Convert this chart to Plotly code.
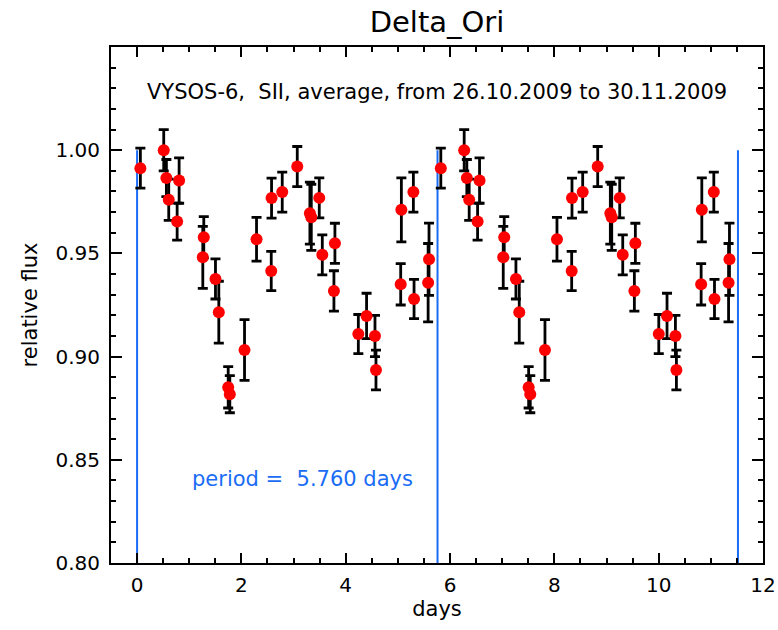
import plotly.graph_objects as go

PERIOD = 5.760

phase = [0.063, 0.511, 0.562, 0.607, 0.806, 0.768, 1.279, 1.260, 1.503, 1.567,
         1.747, 1.778, 2.060, 2.290, 2.572, 2.578, 2.783, 3.071, 3.313, 3.340,
         3.493, 3.551, 3.793, 3.774, 4.242, 4.400, 4.561, 4.580, 5.067, 5.297,
         5.054, 5.310, 5.597, 5.580]
flux = [0.9913, 1.0000, 0.9865, 0.9760, 0.9853, 0.9654, 0.9578, 0.9481, 0.9376, 0.9215,
        0.8851, 0.8818, 0.9032, 0.9569, 0.9415, 0.9768, 0.9797, 0.9921, 0.9695, 0.9675,
        0.9769, 0.9493, 0.9549, 0.9318, 0.9109, 0.9197, 0.9100, 0.8935, 0.9711, 0.9797,
        0.9350, 0.9279, 0.9472, 0.9358]
flux_err = [0.0097, 0.0100, 0.0090, 0.0100, 0.0110, 0.0090, 0.0100, 0.0150, 0.0097, 0.0150,
            0.0100, 0.0090, 0.0147, 0.0106, 0.0095, 0.0097, 0.0097, 0.0097, 0.0150, 0.0160,
            0.0097, 0.0097, 0.0097, 0.0098, 0.0095, 0.0110, 0.0100, 0.0096, 0.0155, 0.0097,
            0.0100, 0.0095, 0.0175, 0.0190]

period_marks = [0.0, PERIOD, 2 * PERIOD]
x_ticks = [0, 2, 4, 6, 8, 10, 12]
y_ticks = [0.80, 0.85, 0.90, 0.95, 1.00]
y_ticklabels = ["0.80", "0.85", "0.90", "0.95", "1.00"]

BLUE = "#1a6cf5"
FONT = "DejaVu Sans"

fig = go.Figure()

for xm in period_marks:
    fig.add_trace(go.Scatter(x=[xm, xm], y=[0.80, 1.00], mode="lines",
                             line=dict(color=BLUE, width=2), showlegend=False,
                             hoverinfo="skip"))

x_all = phase + [p + PERIOD for p in phase]
y_all = flux + flux
e_all = flux_err + flux_err

fig.add_trace(go.Scatter(
    x=x_all, y=y_all, mode="markers",
    marker=dict(color="#ff0000", size=12, line=dict(width=0)),
    error_y=dict(type="data", array=e_all, visible=True, color="black",
                 thickness=2.8, width=5),
    showlegend=False))

fig.add_annotation(text="VYSOS-6,\u00a0\u00a0SII, average, from 26.10.2009 to 30.11.2009",
                   x=0.5, xref="paper", y=1.028, yref="y", xanchor="center", yanchor="middle",
                   showarrow=False, font=dict(family=FONT, size=21, color="black"))
fig.add_annotation(text="period =\u00a0\u00a05.760 days",
                   x=1.02, xref="x", y=0.8406, yref="y", xanchor="left", yanchor="middle",
                   showarrow=False, font=dict(family=FONT, size=21, color=BLUE))

fig.update_layout(
    width=778, height=630,
    margin=dict(l=111, r=15, t=47, b=67, autoexpand=False),
    paper_bgcolor="white", plot_bgcolor="white",
    title=dict(text="Delta_Ori", x=0.5, xanchor="center", xref="paper",
               y=1 - 22 / 630, yanchor="middle", automargin=False,
               font=dict(family=FONT, size=29, color="black")),
    font=dict(family=FONT, size=20, color="black"),
)

fig.update_xaxes(range=[-0.5, 12], tickvals=x_ticks, ticks="inside", ticklen=10,
                 tickwidth=2, tickcolor="black", showline=True, linewidth=2,
                 linecolor="black", mirror="ticks", showgrid=False, zeroline=False,
                 ticklabelstandoff=3, automargin=False,
                 minor=dict(ticks="inside", ticklen=5, dtick=0.5, tickwidth=2,
                            tickcolor="black", showgrid=False),
                 title=dict(text="days", font=dict(family=FONT, size=21), standoff=2),
                 tickfont=dict(family=FONT, size=20))
fig.update_yaxes(range=[0.80, 1.05], tickvals=y_ticks, ticktext=y_ticklabels,
                 ticks="inside", ticklen=11, tickwidth=2, tickcolor="black",
                 showline=True, linewidth=2, linecolor="black", mirror="ticks",
                 showgrid=False, zeroline=False, ticklabelstandoff=5, automargin=False,
                 minor=dict(ticks="inside", ticklen=5, tick0=0.80, dtick=0.01, tickwidth=2,
                            tickcolor="black", showgrid=False),
                 title=dict(text="relative flux", font=dict(family=FONT, size=21), standoff=12),
                 tickfont=dict(family=FONT, size=20))

fig.write_html("out.html")
